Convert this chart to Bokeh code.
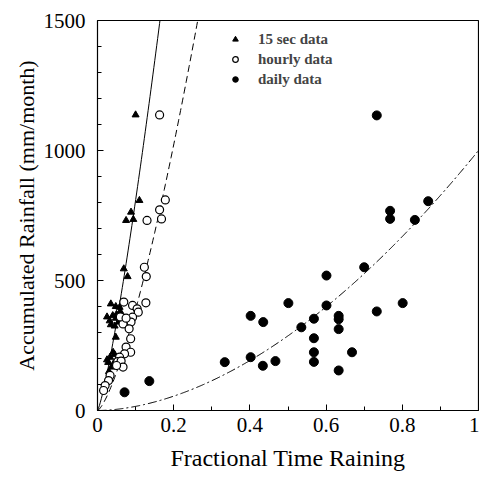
import numpy as np
from bokeh.plotting import figure
from bokeh.models import Range1d, Legend, LegendItem, FixedTicker
from bokeh.embed import file_html
from bokeh.resources import INLINE

# 15 sec data (fractional time raining, accumulated rainfall mm/month)
sec15_x = [0.100, 0.110, 0.088, 0.075, 0.094, 0.069, 0.079, 0.035, 0.048, 0.058,
           0.025, 0.032, 0.040, 0.048, 0.035, 0.045, 0.055, 0.050, 0.060,
           0.048, 0.041, 0.033, 0.028, 0.037, 0.025, 0.045, 0.030, 0.050, 0.042]
sec15_y = [1137, 808, 763, 731, 735, 545, 515, 410, 400, 397,
           360, 345, 365, 355, 330, 325, 340, 370, 380,
           282, 224, 205, 185, 167, 195, 215, 150, 190, 180]

# hourly data
hourly_x = [0.163, 0.178, 0.163, 0.168, 0.130, 0.123, 0.128, 0.069, 0.092, 0.104,
            0.127, 0.107, 0.092, 0.088, 0.067, 0.083, 0.087, 0.075, 0.087, 0.071,
            0.058, 0.053, 0.062, 0.067, 0.050, 0.033, 0.029, 0.020, 0.016, 0.060, 0.075]
hourly_y = [1137, 810, 772, 737, 731, 551, 515, 417, 404, 391,
            414, 378, 359, 340, 333, 314, 276, 244, 224, 218,
            205, 188, 190, 167, 173, 135, 115, 96, 77, 360, 355]

# daily data
daily_x = [0.071, 0.136, 0.334, 0.402, 0.402, 0.435, 0.434, 0.467, 0.501, 0.535,
           0.568, 0.568, 0.568, 0.568, 0.601, 0.601, 0.633, 0.633, 0.633, 0.633,
           0.668, 0.700, 0.733, 0.733, 0.768, 0.768, 0.801, 0.833, 0.868]
daily_y = [70, 113, 186, 364, 205, 340, 172, 190, 413, 320,
           353, 278, 224, 187, 404, 519, 364, 351, 313, 154,
           224, 551, 381, 1135, 768, 737, 413, 733, 805]

# fitted power-law curves y = a * x^b
fit_15sec = (14380.0, 1.25)
fit_hourly = (9730.0, 1.40)
fit_daily = (1000.0, 1.80)

x_ticks = [0, 0.2, 0.4, 0.6, 0.8, 1]
y_ticks = [0, 500, 1000, 1500]

FONT = "Liberation Serif"

p = figure(width=479, height=474, output_backend="svg", toolbar_location=None,
           x_range=Range1d(0, 1), y_range=Range1d(0, 1500))
p.min_border_left = 97
p.min_border_right = 1
p.min_border_top = 20
p.min_border_bottom = 64
p.xgrid.visible = False
p.ygrid.visible = False
p.outline_line_color = "black"
p.outline_line_width = 1.2
p.background_fill_color = "white"
p.border_fill_color = "white"

xs = np.linspace(0, 1, 400)
for (a, b), dash in [(fit_15sec, "solid"), (fit_hourly, "7 4"), (fit_daily, "9 3 2 3")]:
    p.line(xs, a * xs ** b, line_color="black", line_width=1, line_dash=dash)

r1 = p.scatter(sec15_x, sec15_y, marker="triangle", size=7, fill_color="black", line_color="black")
r2 = p.scatter(hourly_x, hourly_y, marker="circle", size=8, fill_color="white", line_color="black", line_width=1.2)
r3 = p.scatter(daily_x, daily_y, marker="circle", size=9, fill_color="black", line_color="black")

legend = Legend(items=[LegendItem(label="15 sec data", renderers=[r1]),
                       LegendItem(label="hourly data", renderers=[r2]),
                       LegendItem(label="daily data", renderers=[r3])],
                location=(131, 322))
legend.border_line_color = None
legend.background_fill_alpha = 0
legend.padding = 0
legend.spacing = 2
legend.margin = 0
legend.glyph_width = 14
legend.glyph_height = 18
legend.label_height = 18
legend.label_standoff = 16
legend.label_text_font = FONT
legend.label_text_font_style = "bold"
legend.label_text_font_size = "15px"
p.add_layout(legend, "center")

for ax in (p.xaxis[0], p.yaxis[0]):
    ax.axis_line_color = None
    ax.major_tick_in = 6
    ax.major_tick_out = 0
    ax.minor_tick_in = 4
    ax.minor_tick_out = 0
    ax.major_tick_line_color = "black"
    ax.minor_tick_line_color = "black"
    ax.major_label_text_font = FONT
    ax.major_label_text_font_size = "21px"
    ax.major_label_text_color = "black"
    ax.axis_label_text_font = FONT
    ax.axis_label_text_font_style = "normal"
    ax.axis_label_text_color = "black"

p.xaxis[0].axis_label_text_font_size = "24px"
p.yaxis[0].axis_label_text_font_size = "22px"
p.xaxis[0].ticker = FixedTicker(ticks=x_ticks, minor_ticks=[0.1, 0.3, 0.5, 0.7, 0.9])
p.xaxis[0].major_label_overrides = {0: "0", 1: "1"}
p.yaxis[0].ticker = FixedTicker(ticks=y_ticks, minor_ticks=[v for v in range(100, 1500, 100) if v % 500])
p.xaxis[0].axis_label = "Fractional Time Raining"
p.yaxis[0].axis_label = "Accumulated Rainfall (mm/month)"
p.xaxis[0].major_label_standoff = 7
p.yaxis[0].major_label_standoff = 12
p.xaxis[0].axis_label_standoff = 10
p.yaxis[0].axis_label_standoff = 2

open("out.html", "w").write(file_html(p, INLINE))
